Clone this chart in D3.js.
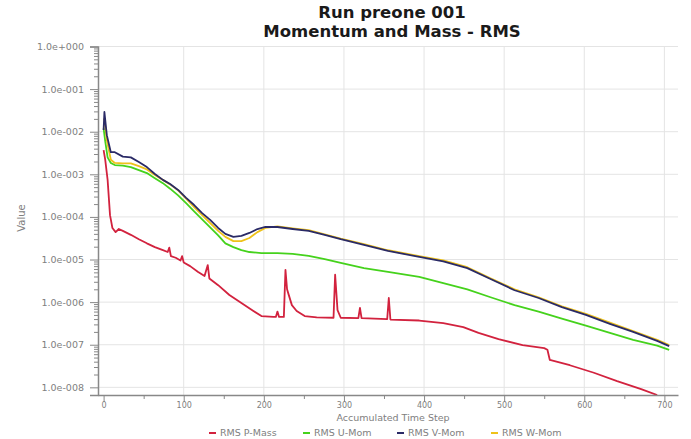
<!DOCTYPE html>
<html>
<head>
<meta charset="utf-8">
<script src="https://cdn.jsdelivr.net/npm/d3@7"></script>
<style>
  body { margin: 0; background: #fff; }
  svg { display: block; font-family: "DejaVu Sans", Verdana, sans-serif; }
</style>
</head>
<body>
<div id="chart"></div>
<script>
// RMS history, [time step, value]
const pMass = [
  [0, 3.7e-3], [2, 2.2e-3], [5, 7.4e-4], [8, 1.1e-4], [11, 5.5e-5], [15, 4.4e-5], [19, 5.2e-5],
  [24, 4.7e-5], [34, 3.8e-5], [44, 3.0e-5], [54, 2.4e-5], [64, 1.96e-5], [74, 1.66e-5],
  [80, 1.5e-5], [82, 1.9e-5], [84, 1.2e-5], [90, 1.1e-5], [96, 9.5e-6], [98, 1.2e-5],
  [100, 8.5e-6], [108, 7.0e-6], [118, 5.1e-6], [126, 4.1e-6], [130, 7.4e-6], [132, 3.6e-6],
  [143, 2.5e-6], [157, 1.47e-6], [172, 9.5e-7], [187, 6.2e-7], [197, 4.7e-7], [212, 4.5e-7],
  [215, 4.5e-7], [217, 6.0e-7], [219, 4.5e-7], [225, 4.5e-7], [227, 5.7e-6], [229, 2.0e-6],
  [231, 1.5e-6], [235, 8.5e-7], [241, 6.2e-7], [251, 4.7e-7], [266, 4.4e-7], [287, 4.3e-7],
  [289, 4.4e-6], [292, 6.5e-7], [296, 4.3e-7], [318, 4.2e-7], [320, 7.3e-7], [322, 4.2e-7],
  [354, 4.0e-7], [356, 1.25e-6], [358, 3.9e-7], [394, 3.7e-7], [424, 3.2e-7], [449, 2.6e-7],
  [468, 1.9e-7], [493, 1.35e-7], [523, 9.8e-8], [550, 8.3e-8], [554, 7.6e-8], [557, 4.4e-8],
  [582, 3.3e-8], [612, 2.2e-8], [641, 1.4e-8], [671, 9.1e-9], [691, 6.6e-9],
];

const uMom = [
  [0, 1.2e-2], [2, 6e-3], [5, 2.5e-3], [9, 1.85e-3], [14, 1.65e-3], [24, 1.6e-3], [34, 1.48e-3],
  [44, 1.26e-3], [54, 1.07e-3], [64, 8.1e-4], [74, 6.2e-4], [83, 4.6e-4], [93, 3.2e-4],
  [103, 2.1e-4], [113, 1.35e-4], [123, 8.8e-5], [133, 5.7e-5], [143, 3.7e-5], [152, 2.4e-5],
  [162, 1.96e-5], [172, 1.66e-5], [182, 1.5e-5], [197, 1.42e-5], [217, 1.42e-5], [236, 1.35e-5],
  [256, 1.22e-5], [276, 1.02e-5], [296, 8.3e-6], [325, 6.3e-6], [355, 5.1e-6], [394, 3.9e-6],
  [424, 2.8e-6], [454, 2.0e-6], [483, 1.3e-6], [513, 8.5e-7], [543, 6.0e-7], [572, 4.1e-7],
  [602, 2.8e-7], [632, 1.9e-7], [661, 1.3e-7], [691, 9.5e-8], [706, 7.6e-8],
];

const vMom = [
  [0, 1.1e-2], [1, 2.9e-2], [4, 8.3e-3], [9, 3.3e-3], [14, 3.3e-3], [24, 2.6e-3], [34, 2.5e-3],
  [44, 1.95e-3], [54, 1.48e-3], [64, 1.02e-3], [74, 7.4e-4], [83, 5.9e-4], [93, 4.3e-4],
  [103, 2.8e-4], [113, 1.9e-4], [123, 1.23e-4], [133, 8.5e-5], [143, 5.5e-5], [152, 4.0e-5],
  [162, 3.4e-5], [172, 3.6e-5], [182, 4.2e-5], [192, 5.2e-5], [202, 5.8e-5], [217, 5.8e-5],
  [236, 5.2e-5], [256, 4.7e-5], [276, 3.8e-5], [296, 3.0e-5], [325, 2.2e-5], [355, 1.6e-5],
  [394, 1.15e-5], [424, 9.1e-6], [454, 6.3e-6], [483, 3.5e-6], [513, 1.9e-6], [543, 1.25e-6],
  [572, 7.6e-7], [602, 5.0e-7], [632, 3.1e-7], [661, 2.0e-7], [691, 1.23e-7], [706, 9.3e-8],
];

const wMom = [
  [0, 1.9e-2], [1, 2.0e-2], [4, 6.4e-3], [9, 2.2e-3], [14, 1.85e-3], [24, 1.8e-3], [34, 1.8e-3],
  [44, 1.55e-3], [54, 1.3e-3], [64, 9.6e-4], [74, 7.4e-4], [83, 5.8e-4], [93, 4.2e-4],
  [103, 2.7e-4], [113, 1.7e-4], [123, 1.1e-4], [133, 7.2e-5], [143, 4.7e-5], [152, 3.4e-5],
  [162, 2.7e-5], [172, 2.7e-5], [182, 3.2e-5], [192, 4.4e-5], [202, 5.5e-5], [217, 6.0e-5],
  [236, 5.4e-5], [256, 4.9e-5], [276, 3.9e-5], [296, 3.1e-5], [325, 2.3e-5], [355, 1.65e-5],
  [394, 1.2e-5], [424, 9.5e-6], [454, 6.6e-6], [483, 3.6e-6], [513, 2.0e-6], [543, 1.3e-6],
  [572, 8.0e-7], [602, 5.3e-7], [632, 3.3e-7], [661, 2.1e-7], [691, 1.3e-7], [706, 9.8e-8],
];

const seriesNames = ['RMS P-Mass', 'RMS U-Mom', 'RMS V-Mom', 'RMS W-Mom'];
const seriesColors = ['#d2223e', '#45d21c', '#2a2a66', '#eec21a'];

const xTicks = [0, 100, 200, 300, 400, 500, 600, 700];
const yTicks = [1, 1e-1, 1e-2, 1e-3, 1e-4, 1e-5, 1e-6, 1e-7, 1e-8];
const yTickLabels = ['1.0e+000', '1.0e-001', '1.0e-002', '1.0e-003', '1.0e-004',
  '1.0e-005', '1.0e-006', '1.0e-007', '1.0e-008'];

const width = 691;
const height = 439;
const plot = { left: 98, right: 678, top: 46.5, bottom: 395 };

const svg = d3.select('#chart')
  .append('svg')
  .attr('width', width)
  .attr('height', height);

const x = d3.scaleLinear()
  .domain([-7, 717])
  .range([plot.left, plot.right]);

const y = d3.scaleLog()
  .domain([Math.pow(10, -8.18), 1])
  .range([plot.bottom, plot.top]);

// titles
svg.append('text')
  .attr('x', 392).attr('y', 18)
  .attr('text-anchor', 'middle')
  .style('font-size', '16.5px').style('font-weight', 'bold').attr('fill', '#1a1a1a')
  .text('Run preone 001');
svg.append('text')
  .attr('x', 392).attr('y', 37)
  .attr('text-anchor', 'middle')
  .style('font-size', '16.5px').style('font-weight', 'bold').attr('fill', '#1a1a1a')
  .text('Momentum and Mass - RMS');

// grid
const grid = svg.append('g').attr('stroke', '#e4e4e4').attr('stroke-width', 1);
grid.selectAll('line.v')
  .data(xTicks.slice(1))
  .enter().append('line')
  .attr('x1', d => x(d)).attr('x2', d => x(d))
  .attr('y1', plot.top).attr('y2', plot.bottom);
grid.selectAll('line.h')
  .data(yTicks)
  .enter().append('line')
  .attr('x1', plot.left).attr('x2', plot.right)
  .attr('y1', d => y(d)).attr('y2', d => y(d));

// series lines (W drawn under V so the dark line stays on top)
svg.append('clipPath').attr('id', 'clip')
  .append('rect')
  .attr('x', plot.left).attr('y', plot.top - 2)
  .attr('width', plot.right - plot.left).attr('height', plot.bottom - plot.top + 2);

const line = d3.line()
  .x(d => x(d[0]))
  .y(d => y(d[1]));

const drawOrder = [
  { data: pMass, i: 0 },
  { data: uMom, i: 1 },
  { data: wMom, i: 3 },
  { data: vMom, i: 2 },
];

const lines = svg.append('g').attr('clip-path', 'url(#clip)');
drawOrder.forEach((s) => {
  lines.append('path')
    .datum(s.data)
    .attr('fill', 'none')
    .attr('stroke', seriesColors[s.i])
    .attr('stroke-width', 1.8)
    .attr('stroke-linejoin', 'round')
    .attr('d', line);
});

// y axis: major ticks with labels, minor ticks per decade
const yMinor = [];
yTicks.slice(1).forEach((t) => {
  for (let k = 2; k <= 9; k += 1) yMinor.push(t * k);
});

const yAxisG = svg.append('g')
  .attr('transform', `translate(${plot.left}, 0)`)
  .call(d3.axisLeft(y).tickValues(yTicks).tickSize(8)
    .tickFormat((d, i) => yTickLabels[i]));
svg.append('g')
  .attr('transform', `translate(${plot.left}, 0)`)
  .call(d3.axisLeft(y).tickValues(yMinor).tickSize(4).tickFormat(''))
  .call(g => g.select('.domain').remove());

// x axis
const xAxisG = svg.append('g')
  .attr('transform', `translate(0, ${plot.bottom})`)
  .call(d3.axisBottom(x).tickValues(xTicks).tickSize(7).tickSizeOuter(0));
svg.append('g')
  .attr('transform', `translate(0, ${plot.bottom})`)
  .call(d3.axisBottom(x).tickValues([50, 150, 250, 350, 450, 550, 650]).tickSize(4).tickFormat(''))
  .call(g => g.select('.domain').remove());

svg.selectAll('.domain').attr('stroke', '#888').attr('stroke-width', 1.5);
svg.selectAll('.tick line').attr('stroke', '#888');
svg.selectAll('.tick text')
  .attr('fill', '#808080')
  .style('font-size', '8px')
  .style('font-family', '"DejaVu Sans", Verdana, sans-serif');
yAxisG.selectAll('.tick text').attr('x', -14).style('font-size', '9.5px');
xAxisG.selectAll('.tick text').attr('y', 7);

// axis titles
svg.append('text')
  .attr('transform', 'translate(25, 218) rotate(-90)')
  .attr('text-anchor', 'middle')
  .attr('fill', '#808080')
  .style('font-size', '10px')
  .text('Value');

svg.append('text')
  .attr('x', 393).attr('y', 421)
  .attr('text-anchor', 'middle')
  .attr('fill', '#808080')
  .style('font-size', '9.5px')
  .text('Accumulated Time Step');

// legend
const legend = svg.append('g').attr('transform', 'translate(209, 433)');
const item = legend.selectAll('g')
  .data(seriesNames)
  .enter().append('g')
  .attr('transform', (d, i) => `translate(${i * 94}, 0)`);
item.append('line')
  .attr('x1', 0).attr('x2', 7)
  .attr('y1', 0).attr('y2', 0)
  .attr('stroke', (d, i) => seriesColors[i])
  .attr('stroke-width', 2);
item.append('text')
  .attr('x', 11).attr('y', 3)
  .attr('fill', '#808080')
  .style('font-size', '9.5px')
  .text(d => d);
</script>
</body>
</html>
